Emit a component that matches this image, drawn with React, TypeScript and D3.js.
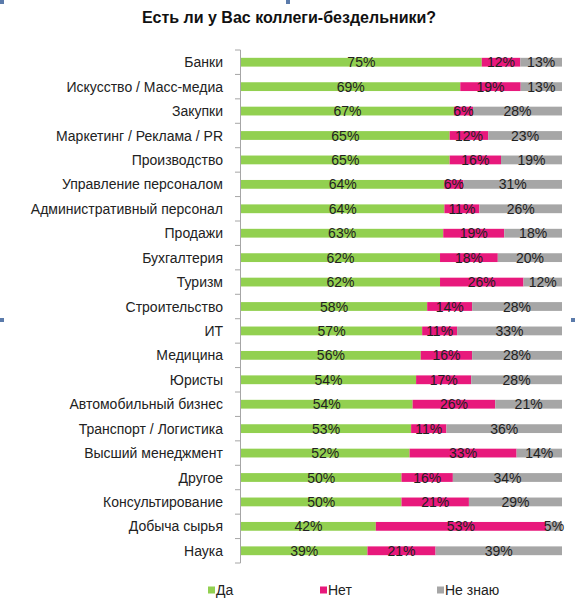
import React from 'react';
import * as d3 from 'd3';

const categories = [
  'Банки',
  'Искусство / Масс-медиа',
  'Закупки',
  'Маркетинг / Реклама / PR',
  'Производство',
  'Управление персоналом',
  'Административный персонал',
  'Продажи',
  'Бухгалтерия',
  'Туризм',
  'Строительство',
  'ИТ',
  'Медицина',
  'Юристы',
  'Автомобильный бизнес',
  'Транспорт / Логистика',
  'Высший менеджмент',
  'Другое',
  'Консультирование',
  'Добыча сырья',
  'Наука',
];

const yes = [75, 69, 67, 65, 65, 64, 64, 63, 62, 62, 58, 57, 56, 54, 54, 53, 52, 50, 50, 42, 39];
const no = [12, 19, 6, 12, 16, 6, 11, 19, 18, 26, 14, 11, 16, 17, 26, 11, 33, 16, 21, 53, 21];
const dunno = [13, 13, 28, 23, 19, 31, 26, 18, 20, 12, 28, 33, 28, 28, 21, 36, 14, 34, 29, 5, 39];

const seriesNames = ['Да', 'Нет', 'Не знаю'];
const seriesKeys = ['yes', 'no', 'dunno'];
const colors = ['#92d050', '#e8197c', '#a6a6a6'];

const title = 'Есть ли у Вас коллеги-бездельники?';

const width = 575;
const height = 615;
const margin = { top: 50, right: 14, bottom: 52, left: 240 };
const font = '"Liberation Sans", Arial, sans-serif';

type Row = { cat: string; yes: number; no: number; dunno: number };

const rows: Row[] = categories.map((cat, i) => ({ cat, yes: yes[i], no: no[i], dunno: dunno[i] }));

const App: React.FC = () => {
  const innerW = width - margin.left - margin.right;
  const innerH = height - margin.top - margin.bottom;

  const x = d3.scaleLinear().domain([0, 1]).range([0, innerW]);
  const y = d3.scaleBand().domain(categories).range([0, innerH]).paddingInner(0.64).paddingOuter(0.32);

  const stacked = d3.stack<Row>().keys(seriesKeys).offset(d3.stackOffsetExpand)(rows);

  const step = y.step();
  const axisTop = (y(categories[0]) ?? 0) - (step - y.bandwidth()) / 2;
  const tickYs = d3.range(categories.length + 1).map(i => axisTop + i * step);

  // legend slots
  const legendX = [208, 320, 437];

  return (
    <svg width={width} height={height} style={{ position: 'absolute', left: 0, top: 0, background: '#fff' }}>
      {/* selection handles from the screenshot */}
      <g fill="#5b7bab">
        <rect x={0} y={0} width={4} height={4} />
        <rect x={286} y={0} width={4} height={4} />
        <rect x={0} y={318} width={4} height={4} />
        <rect x={571} y={318} width={4} height={4} />
      </g>

      <text x={289} y={23} textAnchor="middle" fontFamily={font} fontSize={16} fontWeight="bold" fill="#111">
        {title}
      </text>

      <g transform={`translate(${margin.left},${margin.top})`}>
        {stacked.map((s, si) => (
          <g key={s.key} fill={colors[si]}>
            {s.map((d, i) => (
              <rect
                key={i}
                x={x(d[0]) + 1}
                y={y(d.data.cat)}
                width={x(d[1]) - x(d[0])}
                height={y.bandwidth()}
              />
            ))}
          </g>
        ))}

        {stacked.map((s, si) => (
          <g key={s.key + '-lbl'} fontFamily={font} fontSize={14} fill="#222" textAnchor="middle">
            {s.map((d, i) => (
              <text
                key={i}
                x={x((d[0] + d[1]) / 2) + 1}
                y={(y(d.data.cat) ?? 0) + y.bandwidth() / 2}
                dy="0.36em"
              >
                {(d.data as any)[seriesKeys[si]]}%
              </text>
            ))}
          </g>
        ))}

        {/* category axis */}
        <g stroke="#a6a6a6" strokeWidth={1}>
          <line x1={0.5} x2={0.5} y1={axisTop} y2={axisTop + categories.length * step} />
          {tickYs.map((t, i) => (
            <line key={i} x1={-5} x2={0.5} y1={t} y2={t} />
          ))}
        </g>
        <g fontFamily={font} fontSize={14} fill="#222" textAnchor="end">
          {categories.map(c => (
            <text key={c} x={-17} y={(y(c) ?? 0) + y.bandwidth() / 2} dy="0.36em">
              {c}
            </text>
          ))}
        </g>
      </g>

      <g fontFamily={font} fontSize={14} fill="#222">
        {seriesNames.map((n, i) => (
          <g key={n} transform={`translate(${legendX[i]},590)`}>
            <rect x={0} y={-3.5} width={7} height={7} fill={colors[i]} />
            <text x={8} y={0} dy="0.36em">{n}</text>
          </g>
        ))}
      </g>
    </svg>
  );
};

export default App;
